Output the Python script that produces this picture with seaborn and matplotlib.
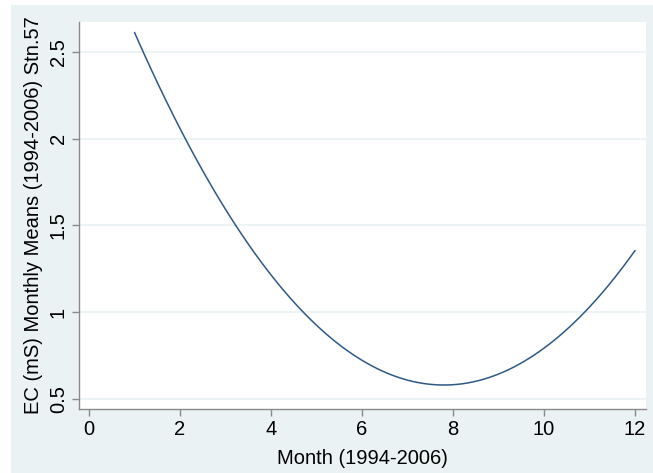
import matplotlib
matplotlib.use("Agg")
import matplotlib.pyplot as plt
import seaborn as sns
import pandas as pd
from matplotlib.patches import Rectangle

# Monthly mean electrical conductivity at station 57
months = [1, 2, 3, 4, 5, 6, 7, 8, 9, 10, 11, 12]
ec_means = [2.61, 2.06, 1.59, 1.22, 0.93, 0.72, 0.61, 0.58, 0.64, 0.79, 1.03, 1.36]

x_ticks = [0, 2, 4, 6, 8, 10, 12]
y_ticks = [0.5, 1.0, 1.5, 2.0, 2.5]
y_tick_labels = ["0.5", "1", "1.5", "2", "2.5"]

df = pd.DataFrame({"month": months, "ec": ec_means})

sns.set_theme(style="white")
plt.rcParams["font.family"] = ["Liberation Sans", "DejaVu Sans"]

bg = "#EAF2F3"
fs = 14.5
fig = plt.figure(figsize=(6.53, 4.73), dpi=100, facecolor="white")
fig.patches.append(Rectangle((11 / 653, 0), 1 - 11 / 653, 1 - 5 / 473,
                             transform=fig.transFigure, facecolor=bg,
                             edgecolor="none", zorder=-10))

ax = fig.add_axes([79 / 653, 1 - 409 / 473, (646 - 79) / 653, (409 - 22) / 473])
ax.set_facecolor("white")

# Quadratic fit of the monthly means
sns.regplot(data=df, x="month", y="ec", order=2, ci=None, scatter=False,
            truncate=True, ax=ax, line_kws={"color": "#2e5986", "lw": 1.1})

ax.set_xlim(-0.22, 12.24)
ax.set_ylim(0.442, 2.673)
ax.set_xticks(x_ticks)
ax.set_yticks(y_ticks)
ax.set_yticklabels(y_tick_labels, rotation=90, va="center")

for y in y_ticks:
    ax.axhline(y, color=bg, lw=1.2, zorder=0)

for side in ["top", "right"]:
    ax.spines[side].set_visible(False)
for side in ["left", "bottom"]:
    ax.spines[side].set_color("#8a8a8a")
    ax.spines[side].set_linewidth(1.0)

ax.tick_params(axis="both", which="major", direction="out", length=5,
               width=1.0, color="#8a8a8a", labelsize=fs, labelcolor="black",
               left=True, bottom=True, pad=3)

ax.set_xlabel("Month (1994-2006)", fontsize=fs, color="black", labelpad=7)
ax.set_ylabel("EC (mS) Monthly Means (1994-2006) Stn.57", fontsize=fs,
              color="black", labelpad=4)

fig.savefig("out.png", dpi=100, facecolor=fig.get_facecolor())
